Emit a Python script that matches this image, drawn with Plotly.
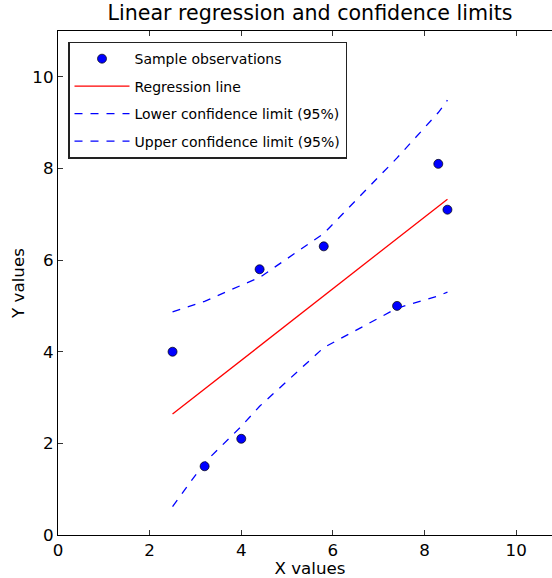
import plotly.graph_objects as go

# ---- data ----
x_obs = [2.5, 3.2, 4.0, 4.4, 5.8, 7.4, 8.3, 8.5]
y_obs = [4.0, 1.5, 2.1, 5.8, 6.3, 5.0, 8.1, 7.1]

x_reg = [2.5, 8.5]
y_reg = [2.64, 7.33]

x_conf = [2.5, 3.2, 4.0, 4.4, 5.8, 7.4, 8.3, 8.5]
y_lower = [0.62, 1.58, 2.37, 2.81, 4.09, 4.95, 5.22, 5.30]
y_upper = [4.87, 5.10, 5.45, 5.62, 6.58, 8.23, 9.22, 9.49]

x_ticks = [0, 2, 4, 6, 8, 10]
y_ticks = [0, 2, 4, 6, 8, 10]

FONT = "DejaVu Sans"

fig = go.Figure()
fig.add_trace(go.Scatter(
    x=x_obs, y=y_obs, mode="markers", name="Sample observations",
    legendgroup="a",
    marker=dict(color="#0000ff", size=9, line=dict(color="black", width=0.7)),
))
fig.add_trace(go.Scatter(
    x=x_reg, y=y_reg, mode="lines", name="Regression line",
    legendgroup="b",
    line=dict(color="#ff0000", width=1.3),
))
fig.add_trace(go.Scatter(
    x=x_conf, y=y_lower, mode="lines", name="Lower confidence limit (95%)",
    legendgroup="c",
    line=dict(color="#0000ff", width=1.3, dash="8px,8px"),
))
fig.add_trace(go.Scatter(
    x=x_conf, y=y_upper, mode="lines", name="Upper confidence limit (95%)",
    legendgroup="d",
    line=dict(color="#0000ff", width=1.3, dash="8px,8px"),
))

axis_common = dict(
    showgrid=False, zeroline=False, automargin=False,
    showline=True, linecolor="black", linewidth=1.3,
    ticks="inside", ticklen=5, tickwidth=1, tickcolor="#333",
    mirror="ticks",
    tickfont=dict(family=FONT, size=16.7, color="black"),
)

# figure is slightly wider than the window; its right edge is clipped like the reference
fig.update_layout(
    width=562, height=578,
    margin=dict(l=58, r=0, t=31, b=43, autoexpand=False),
    paper_bgcolor="white", plot_bgcolor="white",
    font=dict(family=FONT, color="black"),
    title=dict(
        text="Linear regression and confidence limits",
        font=dict(family=FONT, size=20.6, color="black"),
        x=0.5, xref="paper", xanchor="center",
        y=1 - 13 / 578, yref="container", yanchor="middle",
    ),
    xaxis=dict(
        range=[0, 11], tickvals=x_ticks, ticktext=[str(v) for v in x_ticks],
        title=dict(text="X values", font=dict(family=FONT, size=16.7, color="black"), standoff=3),
        **axis_common,
    ),
    yaxis=dict(
        range=[0, 11], tickvals=y_ticks, ticktext=[str(v) for v in y_ticks],
        title=dict(text="Y values", font=dict(family=FONT, size=16.7, color="black"), standoff=3),
        **axis_common,
    ),
    legend=dict(
        x=(68 - 58) / 504, y=0.979, xanchor="left", yanchor="top",
        bgcolor="white", bordercolor="#222", borderwidth=1.5,
        font=dict(family=FONT, size=14, color="black"),
        tracegroupgap=6.3, itemwidth=55,
    ),
    showlegend=True,
)

fig.write_html(
    "out.html",
    config={"displayModeBar": False},
    post_script="document.body.style.margin='0';document.body.style.overflow='hidden';",
)
